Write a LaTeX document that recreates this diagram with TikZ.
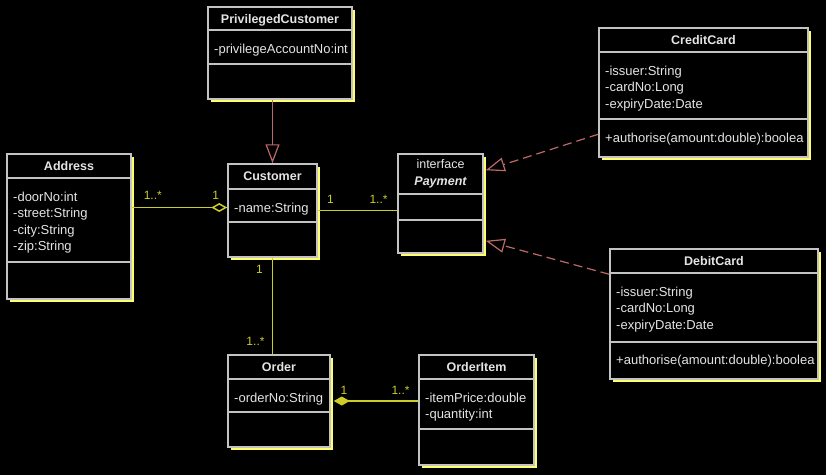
\documentclass[tikz,border=0pt]{standalone}
\usepackage{fontspec}
\setmainfont{Liberation Sans}
\usetikzlibrary{arrows.meta,fit}
\definecolor{boxgray}{RGB}{195,195,195}
\definecolor{txtgray}{RGB}{228,228,228}
\definecolor{shadowyel}{RGB}{255,255,110}
\definecolor{assocyel}{RGB}{205,205,40}
\definecolor{genred}{RGB}{190,105,105}
\tikzset{
  classbox/.style={draw=boxgray, line width=1.5pt, inner sep=0pt},
  classsep/.style={draw=boxgray, line width=1.5pt},
  boxshadow/.style={draw=shadowyel, line width=2pt},
  titletext/.style={text=txtgray, font=\fontsize{12.5}{15}\selectfont\bfseries,
    inner sep=0pt, text height=9.5pt, text depth=0pt},
  membertext/.style={text=txtgray, font=\fontsize{13}{16}\selectfont, anchor=west,
    inner sep=0pt, text height=9.5pt, text depth=0pt},
  assoc/.style={draw=assocyel, line width=1.5pt},
  mult/.style={text=assocyel, font=\fontsize{12}{14}\selectfont, inner sep=0pt,
    text height=9pt, text depth=0pt},
  inherit/.style={draw=genred, line width=1.2pt, -{Triangle[open, length=19pt, width=14pt]}},
  realize/.style={inherit, dash pattern=on 9pt off 5pt},
}
\begin{document}
\begin{tikzpicture}[x=1pt, y=-1pt]
	\fill[black] (0,0) rectangle (826,475);
	\useasboundingbox (0,0) rectangle (826,475);
	% class boxes: name/left/top/right/bottom/first separator/second separator
	\foreach \nm/\xa/\ya/\xb/\yb/\sa/\sb in {priv/208/7/352/99/30/64,
			addr/7/154/131/299/178/262, cust/228/164/317/257/189/222,
			pay/398/154/483/253/194/220, credit/599/28/808/157/52/119,
			debit/610/249/818/379/273/342, order/228/355/330/447/379/412,
			item/419/355/534/465/379/429} {
			\draw[boxshadow] (\xb+2.2,\ya+3) -- (\xb+2.2,\yb+2.2) -- (\xa+3,\yb+2.2);
			\node[classbox, fit={(\xa,\ya) (\xb,\yb)}] (\nm) {};
			\draw[classsep] (\xa,\sa) -- (\xb,\sa) (\xa,\sb) -- (\xb,\sb);
		}
	% class names
	\foreach \nm/\ttl in {priv/PrivilegedCustomer, addr/Address, cust/Customer,
			credit/CreditCard, debit/DebitCard, order/Order, item/OrderItem} {
			\node[titletext] (\nm-title) at ([yshift=-12pt]\nm.north) {\ttl};
		}
	\node[titletext, font=\fontsize{12.5}{15}\selectfont] (pay-stereo) at ([yshift=-10pt]pay.north) {interface};
	\node[titletext, font=\fontsize{12.5}{15}\selectfont\bfseries\itshape] (pay-title) at ([yshift=-27pt]pay.north) {Payment};
	% attributes
	\foreach \nm/\xa/\sa/\attrs in {priv/208/30/{-privilegeAccountNo:int},
			addr/7/178/{-doorNo:int,-street:String,-city:String,-zip:String},
			cust/228/189/{-name:String},
			credit/599/52/{-issuer:String,-cardNo:Long,-expiryDate:Date},
			debit/610/273/{-issuer:String,-cardNo:Long,-expiryDate:Date},
			order/228/379/{-orderNo:String},
			item/419/379/{-itemPrice:double,-quantity:int}} {
			\foreach \t [count=\i] in \attrs {
					\node[membertext] (\nm-a\i) at ({\xa+6},{\sa+2+16.5*\i}) {\t};
				}
		}
	% operations
	\node[membertext] (credit-op1) at (605,138) {+authorise(amount:double):boolea};
	\node[membertext] (debit-op1) at (616,360) {+authorise(amount:double):boolea};
	% inheritance and realisation
	\draw[inherit] (cust.north |- priv.south) -- (cust.north);
	\draw[realize] ([yshift=-107pt]credit.north west) -- ([xshift=2pt, yshift=-17pt]pay.north east);
	\draw[realize] ([yshift=-26pt]debit.north west) -- ([xshift=2pt, yshift=13pt]pay.south east);
	% associations
	\draw[assoc, -{Diamond[open, length=16pt, width=9pt]}] (addr.east |- cust-a1) --
		node[mult, pos=0.22, yshift=13pt] (m-addr) {1..*}
		node[mult, pos=0.88, yshift=13pt] (m-cust1) {1} (cust.west |- cust-a1);
	\draw[assoc] (cust.east) --
		node[mult, pos=0.16, yshift=12pt] (m-cust2) {1}
		node[mult, pos=0.765, yshift=12pt] (m-pay) {1..*} (pay.west |- cust.east);
	\draw[assoc] (cust.south) --
		node[mult, pos=0.12, xshift=-13pt] (m-cust3) {1}
		node[mult, pos=0.867, xshift=-17pt] (m-order1) {1..*} (cust.south |- order.north);
	\draw[assoc, {Diamond[length=16pt, width=9pt]}-] ([xshift=3pt]order.east) --
		node[mult, pos=0.12, yshift=11pt] (m-order2) {1}
		node[mult, pos=0.79, yshift=11pt] (m-item) {1..*} (item.west |- order.east);
\end{tikzpicture}
\end{document}
